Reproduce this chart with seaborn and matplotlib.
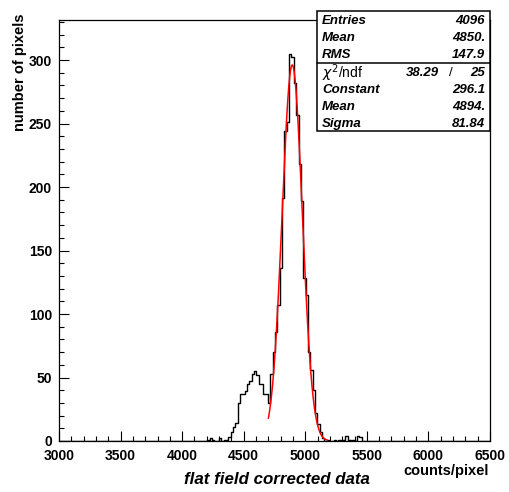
import numpy as np
import pandas as pd
import matplotlib
matplotlib.use("Agg")
import matplotlib.pyplot as plt
import seaborn as sns
from matplotlib.patches import Rectangle
from matplotlib.lines import Line2D
from matplotlib.ticker import MultipleLocator

# ---- histogram contents (bin width 19 counts, first populated edge at 4185) ----
bin_start = 4185
bin_width = 19
counts = [
    # low tail
    0, 1, 2, 1, 0, 0, 2, 0, 1, 1,
    # secondary bump
    3, 7, 11, 14, 30, 37, 37, 39, 45, 47, 53, 55, 52, 45, 45, 37, 37, 30,
    # main peak
    53, 70, 86, 107, 136, 191, 244, 251, 305, 302, 282, 257, 218, 189,
    128, 115, 70, 56, 40, 22, 13, 7,
    # high tail
    2, 0, 1, 0, 0, 1, 0, 1, 0, 1, 4, 1, 1, 1, 0, 4, 3,
]

# ---- gaussian fit result ----
fit_constant = 296.1
fit_mean = 4894.0
fit_sigma = 81.84
fit_range = (4700, 5180)

# ---- statistics box ----
stat_labels = ["Entries", "Mean", "RMS"]
stat_values = ["4096", "4850.", "147.9"]
chi2_value = "38.29"
ndf_value = "25"
fit_labels = ["Constant", "Mean", "Sigma"]
fit_values = ["296.1", "4894.", "81.84"]

x_range = (3000, 6500)
y_max = 331.5

sns.set_style("white")
plt.rcParams["font.family"] = ["Liberation Sans", "DejaVu Sans"]
plt.rcParams["mathtext.fontset"] = "dejavusans"
plt.rcParams["text.color"] = "black"

W, H = 509, 492
fig = plt.figure(figsize=(W / 100, H / 100), dpi=100)
fig.patch.set_facecolor("white")


def fx(px):
    return px / W


def fy(py):
    return 1 - py / H


ax = fig.add_axes([fx(59), fy(441), (490 - 59) / W, (441 - 20) / H])
ax.set_facecolor("white")

counts_arr = np.array(counts, dtype=float)
hist_df = pd.DataFrame({
    "center": bin_start + bin_width * (np.arange(len(counts_arr)) + 0.5),
    "count": counts_arr,
})
n_below = int(np.ceil((bin_start - x_range[0]) / bin_width))
n_above = int(np.ceil((x_range[1] - bin_start) / bin_width))
hist_lo = bin_start - bin_width * n_below
hist_hi = bin_start + bin_width * n_above

sns.histplot(data=hist_df, x="center", weights="count", binwidth=bin_width,
             binrange=(hist_lo, hist_hi), element="step", fill=False,
             color="black", linewidth=1.0, ax=ax)

xs = np.linspace(fit_range[0], fit_range[1], 400)
fit_df = pd.DataFrame({
    "x": xs,
    "y": fit_constant * np.exp(-0.5 * ((xs - fit_mean) / fit_sigma) ** 2),
})
sns.lineplot(data=fit_df, x="x", y="y", color="red", linewidth=1.1, ax=ax)

ax.set_xlim(*x_range)
ax.set_ylim(0, y_max)
ax.set_xlabel("")
ax.set_ylabel("")

ax.xaxis.set_major_locator(MultipleLocator(500))
ax.xaxis.set_minor_locator(MultipleLocator(100))
ax.yaxis.set_major_locator(MultipleLocator(50))
ax.yaxis.set_minor_locator(MultipleLocator(10))
ax.tick_params(axis="both", which="both", bottom=True, left=True,
               top=False, right=False, direction="in", colors="black")
ax.tick_params(axis="both", which="major", length=7, width=0.8, labelsize=10)
ax.tick_params(axis="both", which="minor", length=3.5, width=0.8)
ax.tick_params(axis="x", which="major", pad=6)
ax.tick_params(axis="y", which="major", pad=5)
for lab in ax.get_xticklabels() + ax.get_yticklabels():
    lab.set_fontweight("bold")
for sp in ax.spines.values():
    sp.set_color("black")
    sp.set_linewidth(0.9)
ax.grid(False)

# axis titles
fig.text(fx(20), fy(72), "number of pixels", rotation=90, ha="center", va="center",
         fontsize=10.5, fontweight="bold", color="black")
fig.text(fx(489), fy(470.5), "counts/pixel", ha="right", va="center",
         fontsize=10.5, fontweight="bold", color="black")
fig.text(fx(277), fy(480), "flat field corrected data", ha="center", va="center",
         fontsize=12.2, fontweight="bold", fontstyle="italic", color="black")

# statistics box
box_l, box_t, box_r, box_b = 317, 11, 490, 131
fig.patches.append(Rectangle((fx(box_l), fy(box_b)), fx(box_r) - fx(box_l),
                             fy(box_t) - fy(box_b), transform=fig.transFigure,
                             facecolor="white", edgecolor="black", linewidth=1.1,
                             zorder=5))
fig.lines.append(Line2D([fx(box_l), fx(box_r)], [fy(63), fy(63)],
                        transform=fig.transFigure, color="black", linewidth=1.1,
                        zorder=6))

box_font = dict(fontsize=9.5, fontweight="bold", fontstyle="italic", zorder=7,
                va="center", color="black")
label_x = fx(322)
value_x = fx(485)
for i, (lab, val) in enumerate(zip(stat_labels, stat_values)):
    yy = fy(21 + 17 * i)
    fig.text(label_x, yy, lab, ha="left", **box_font)
    fig.text(value_x, yy, val, ha="right", **box_font)

yy = fy(73)
fig.text(label_x, yy, r"$\chi^{2}$/ndf", ha="left", va="center", fontsize=10,
         zorder=7, color="black")
fig.text(fx(439), yy, chi2_value, ha="right", **box_font)
fig.text(fx(451), yy, "/", ha="center", va="center", fontsize=9.5, zorder=7,
         color="black")
fig.text(value_x, yy, ndf_value, ha="right", **box_font)
for i, (lab, val) in enumerate(zip(fit_labels, fit_values)):
    yy = fy(90 + 17 * i)
    fig.text(label_x, yy, lab, ha="left", **box_font)
    fig.text(value_x, yy, val, ha="right", **box_font)

fig.savefig("out.png", dpi=100, facecolor="white")
